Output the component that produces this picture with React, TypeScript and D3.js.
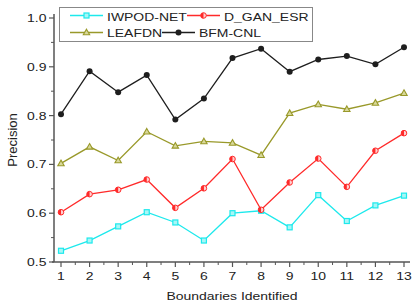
import React, { useEffect, useRef } from "react";
import * as d3 from "d3";

const boundaries = [1, 2, 3, 4, 5, 6, 7, 8, 9, 10, 11, 12, 13];
const iwpodNet = [0.523, 0.544, 0.573, 0.602, 0.581, 0.544, 0.6, 0.605, 0.571, 0.637, 0.584, 0.616, 0.636];
const dGanEsr = [0.602, 0.639, 0.648, 0.669, 0.611, 0.651, 0.711, 0.607, 0.663, 0.712, 0.654, 0.728, 0.764];
const leafdn = [0.702, 0.736, 0.708, 0.767, 0.738, 0.747, 0.744, 0.719, 0.805, 0.823, 0.813, 0.826, 0.846];
const bfmCnl = [0.803, 0.891, 0.848, 0.883, 0.792, 0.835, 0.918, 0.937, 0.89, 0.915, 0.922, 0.905, 0.94];
const yTicks = [0.5, 0.6, 0.7, 0.8, 0.9, 1.0];
const yMinorTicks = [0.55, 0.65, 0.75, 0.85, 0.95];
const xMinorTicks = [1.5, 2.5, 3.5, 4.5, 5.5, 6.5, 7.5, 8.5, 9.5, 10.5, 11.5, 12.5];

const FONT = "'Liberation Sans', Arial, sans-serif";
const SX = 1.27; // text in the picture is stretched sideways

const series = [
  { name: "IWPOD-NET", values: iwpodNet, color: "#1de9ec", marker: "square" },
  { name: "D_GAN_ESR", values: dGanEsr, color: "#ff2a2a", marker: "halfcircle" },
  { name: "LEAFDN", values: leafdn, color: "#99992a", marker: "triangle" },
  { name: "BFM-CNL", values: bfmCnl, color: "#1e1e1e", marker: "circle" },
];

function drawMarker(g, kind, color, cx, cy) {
  if (kind === "square") {
    g.append("rect").attr("x", cx - 2.5).attr("y", cy - 2.5).attr("width", 5).attr("height", 5)
      .attr("fill", "#a8f6f6").attr("stroke", color).attr("stroke-width", 1.2);
  } else if (kind === "halfcircle") {
    g.append("circle").attr("cx", cx).attr("cy", cy).attr("r", 2.8)
      .attr("fill", "#ffd0d0").attr("stroke", color).attr("stroke-width", 1);
    g.append("path").attr("d", `M${cx},${cy - 2.8} A2.8,2.8 0 0 0 ${cx},${cy + 2.8} Z`).attr("fill", color);
  } else if (kind === "triangle") {
    g.append("path").attr("d", `M${cx},${cy - 3.3} L${cx + 3.2},${cy + 2.3} L${cx - 3.2},${cy + 2.3} Z`)
      .attr("fill", "#d8d89a").attr("stroke", color).attr("stroke-width", 1.1);
  } else {
    g.append("circle").attr("cx", cx).attr("cy", cy).attr("r", 3).attr("fill", color);
  }
}

function Chart() {
  const ref = useRef(null);

  useEffect(() => {
    const svg = d3.select(ref.current);
    svg.selectAll("*").remove();

    const x = d3.scaleLinear().domain([1, 13]).range([61, 404]);
    const y = d3.scaleLinear().domain([0.5, 1.0]).range([262, 18]);
    const axisColor = "#555";

    // axes
    svg.append("line").attr("x1", 54).attr("x2", 54).attr("y1", 14).attr("y2", 262)
      .attr("stroke", axisColor).attr("stroke-width", 1.5);
    svg.append("line").attr("x1", 52).attr("x2", 410).attr("y1", 262).attr("y2", 262)
      .attr("stroke", axisColor).attr("stroke-width", 1.5);

    yTicks.forEach((t) => {
      svg.append("line").attr("x1", 49).attr("x2", 54).attr("y1", y(t)).attr("y2", y(t))
        .attr("stroke", axisColor).attr("stroke-width", 1.2);
      svg.append("text").attr("transform", `translate(46.5,${y(t) + 4}) scale(${SX},1)`)
        .attr("text-anchor", "end").attr("font-family", FONT).attr("font-size", 11)
        .attr("fill", "#222").text(d3.format(".1f")(t));
    });
    yMinorTicks.forEach((t) => {
      svg.append("line").attr("x1", 51).attr("x2", 54).attr("y1", y(t)).attr("y2", y(t))
        .attr("stroke", axisColor).attr("stroke-width", 1);
    });
    boundaries.forEach((b) => {
      svg.append("line").attr("x1", x(b)).attr("x2", x(b)).attr("y1", 262).attr("y2", 267)
        .attr("stroke", axisColor).attr("stroke-width", 1.2);
      svg.append("text").attr("transform", `translate(${x(b)},280) scale(${SX},1)`)
        .attr("text-anchor", "middle").attr("font-family", FONT).attr("font-size", 11)
        .attr("fill", "#222").text(b);
    });
    xMinorTicks.forEach((b) => {
      svg.append("line").attr("x1", x(b)).attr("x2", x(b)).attr("y1", 262).attr("y2", 265)
        .attr("stroke", axisColor).attr("stroke-width", 1);
    });

    // titles
    svg.append("text").attr("transform", `translate(232,300) scale(${SX},1)`)
      .attr("text-anchor", "middle").attr("font-family", FONT).attr("font-size", 11)
      .attr("fill", "#222").text("Boundaries Identified");
    svg.append("text").attr("transform", "translate(16.5,140) rotate(-90)")
      .attr("text-anchor", "middle").attr("font-family", FONT).attr("font-size", 13)
      .attr("fill", "#222").text("Precision");

    // series
    const line = d3.line().x((d) => x(d[0])).y((d) => y(d[1]));
    series.forEach((s) => {
      const pts = boundaries.map((b, i) => [b, s.values[i]]);
      svg.append("path").attr("d", line(pts)).attr("fill", "none")
        .attr("stroke", s.color).attr("stroke-width", 1.3);
      const g = svg.append("g");
      pts.forEach((p) => drawMarker(g, s.marker, s.color, x(p[0]), y(p[1])));
    });

    // legend
    svg.append("rect").attr("x", 59.5).attr("y", 7.5).attr("width", 253).attr("height", 34)
      .attr("fill", "white").attr("stroke", "#888").attr("stroke-width", 1);
    const legendPos = [
      { x0: 70, ty: 20.5, ly: 15.5 },
      { x0: 187, ty: 20.5, ly: 15.5 },
      { x0: 70, ty: 37, ly: 32.5 },
      { x0: 162, ty: 37, ly: 32.5 },
    ];
    series.forEach((s, i) => {
      const p = legendPos[i];
      svg.append("line").attr("x1", p.x0).attr("x2", p.x0 + 33).attr("y1", p.ly).attr("y2", p.ly)
        .attr("stroke", s.color).attr("stroke-width", 1.3);
      drawMarker(svg.append("g"), s.marker, s.color, p.x0 + 16.5, p.ly);
      svg.append("text").attr("transform", `translate(${p.x0 + 37},${p.ty}) scale(${SX},1)`)
        .attr("font-family", FONT).attr("font-size", 11).attr("fill", "#222").text(s.name);
    });
  }, []);

  return <svg ref={ref} width={418} height={306} style={{ position: "absolute", left: 0, top: 0, background: "white" }} />;
}

export default function App() {
  return <Chart />;
}
